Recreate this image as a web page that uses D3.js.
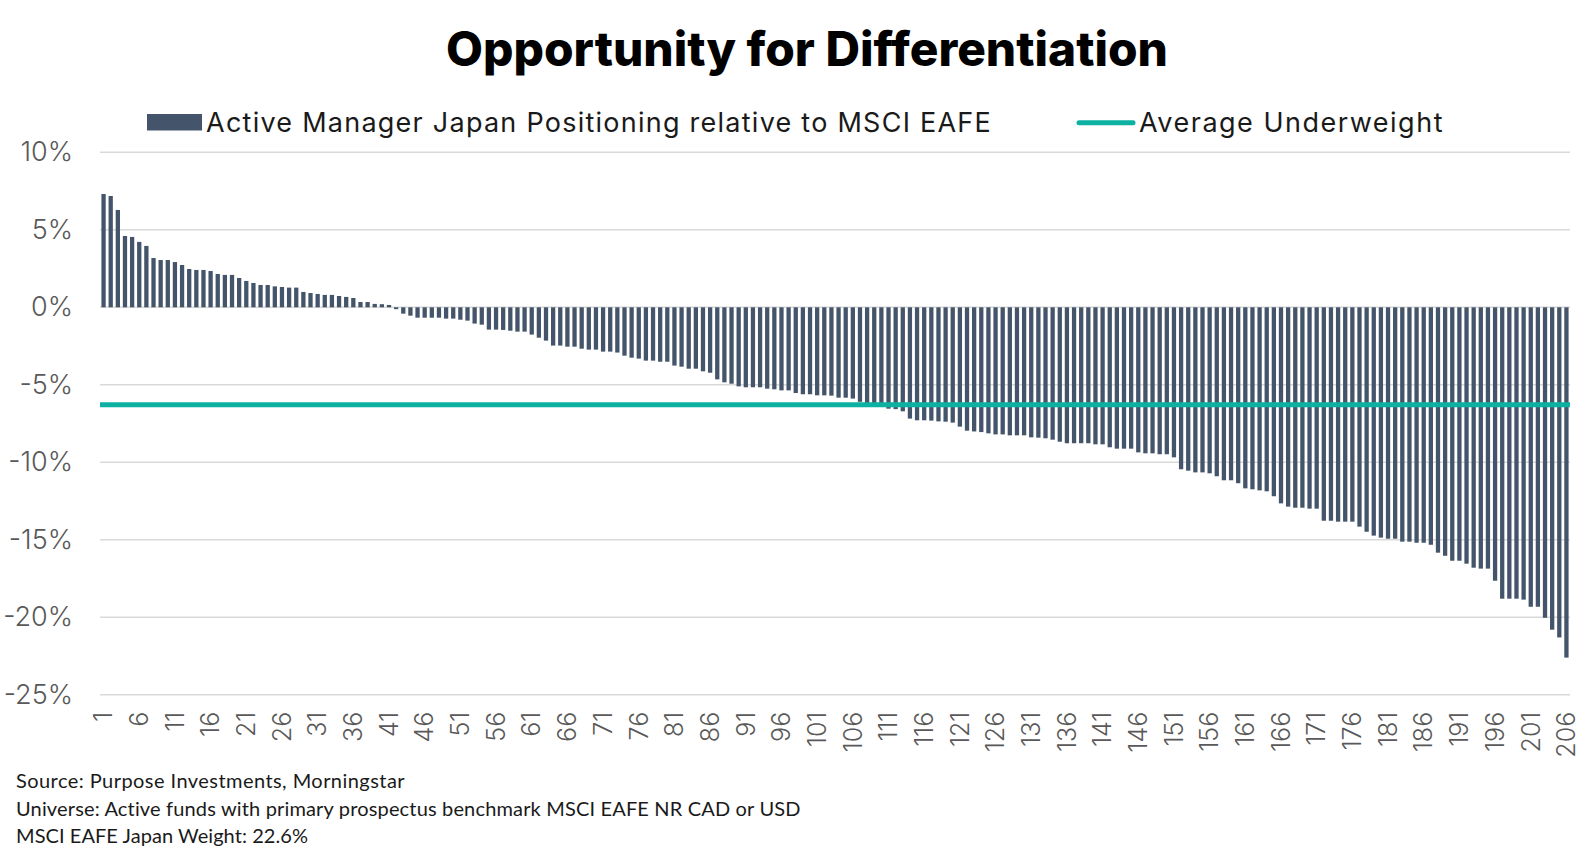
<!DOCTYPE html>
<html lang="en">
<head>
    <meta charset="UTF-8">
    <title>Opportunity for Differentiation</title>
    <script src="https://cdn.jsdelivr.net/npm/d3@7"></script>
    <style>
        body {
            margin: 0;
            background: #fff;
        }
        text {
            font-family: Inter, "DejaVu Sans", sans-serif;
        }
        .source {
            font-family: Lato, "Liberation Sans", sans-serif;
        }
    </style>
</head>
<body>
<script>
    const width  = 1596;
    const height = 854;

    // Funds ranked 1..206 by Japan positioning vs MSCI EAFE (percentage points)
    const funds = d3.range(1, 207);

    const positioning = [
        7.31, 7.18, 6.28, 4.60, 4.54, 4.22, 3.96, 3.18, 3.05, 3.05,
        2.92, 2.73, 2.47, 2.41, 2.41, 2.34, 2.15, 2.09, 2.09, 1.89,
        1.70, 1.57, 1.44, 1.44, 1.35, 1.31, 1.27, 1.27, 0.99, 0.92,
        0.86, 0.80, 0.80, 0.73, 0.67, 0.60, 0.34, 0.34, 0.22, 0.20,
        0.15, -0.12, -0.41, -0.54, -0.67, -0.67, -0.67, -0.67, -0.73, -0.73,
        -0.80, -0.86, -1.05, -1.12, -1.44, -1.44, -1.46, -1.51, -1.57, -1.57,
        -1.76, -1.96, -2.15, -2.47, -2.47, -2.54, -2.54, -2.67, -2.73, -2.73,
        -2.86, -2.86, -2.92, -3.12, -3.25, -3.31, -3.44, -3.44, -3.51, -3.51,
        -3.76, -3.83, -3.96, -3.96, -4.13, -4.22, -4.65, -4.84, -4.93, -5.10,
        -5.16, -5.16, -5.16, -5.25, -5.29, -5.36, -5.36, -5.53, -5.61, -5.61,
        -5.68, -5.68, -5.70, -5.83, -5.83, -5.89, -6.10, -6.20, -6.30, -6.40,
        -6.54, -6.57, -6.71, -7.18, -7.29, -7.29, -7.31, -7.36, -7.38, -7.44,
        -7.70, -7.96, -8.01, -8.05, -8.13, -8.20, -8.20, -8.26, -8.26, -8.26,
        -8.39, -8.41, -8.45, -8.54, -8.67, -8.77, -8.77, -8.77, -8.77, -8.84,
        -8.84, -9.03, -9.12, -9.12, -9.12, -9.36, -9.42, -9.42, -9.48, -9.48,
        -9.68, -10.45, -10.54, -10.65, -10.65, -10.71, -10.90, -11.16, -11.16, -11.35,
        -11.68, -11.74, -11.81, -11.87, -12.19, -12.65, -12.86, -12.93, -12.93, -12.99,
        -12.99, -13.77, -13.77, -13.83, -13.83, -13.83, -14.15, -14.48, -14.73, -14.86,
        -14.93, -14.93, -15.12, -15.12, -15.19, -15.19, -15.32, -15.83, -16.03, -16.35,
        -16.35, -16.54, -16.80, -16.86, -16.86, -17.64, -18.80, -18.80, -18.80, -18.86,
        -19.32, -19.32, -20.03, -20.80, -21.30, -22.60
    ];

    const yTicks = [10, 5, 0, -5, -10, -15, -20, -25];
    const xTicks = funds.filter((d, i) => i % 5 === 0);   // 1, 6, 11, ... 206

    const titleText  = "Opportunity for Differentiation";
    const seriesName = "Active Manager Japan Positioning relative to MSCI EAFE";
    const avgName    = "Average Underweight";
    const sourceLines = [
        "Source: Purpose Investments, Morningstar",
        "Universe: Active funds with primary prospectus benchmark MSCI EAFE NR CAD or USD",
        "MSCI EAFE Japan Weight: 22.6%"
    ];

    const barColor  = "#44546a";
    const avgColor  = "#0db1a2";
    const gridColor = "#d9d9d9";

    const plot = {left: 100, right: 1570, top: 152.3, bottom: 694.8};

    const x = d3.scaleBand()
                .domain(funds)
                .range([plot.left, plot.right])
                .paddingInner(0.4)
                .paddingOuter(0.2);

    const y = d3.scaleLinear()
                .domain([-25, 10])
                .range([plot.bottom, plot.top]);

    const avg = d3.mean(positioning);

    const svg = d3.select("body").append("svg")
                  .attr("width", width)
                  .attr("height", height);

    // stretch text with letter spacing so it covers the same width as the original
    function fitWidth(sel, target) {
        sel.each(function() {
            const w = this.getComputedTextLength();
            const n = this.getNumberOfChars();
            d3.select(this).attr("letter-spacing", (target - w) / n);
        });
    }

    // scale the font size instead (keeps the glyphs' own spacing)
    function fitSize(sel, target) {
        sel.each(function() {
            const size = parseFloat(this.style.fontSize);
            const w = this.getComputedTextLength();
            d3.select(this).style("font-size", (size * target / w) + "px");
        });
    }

    // Title
    svg.append("text")
        .attr("x", 807)
        .attr("y", 66)
        .attr("text-anchor", "middle")
        .style("font-size", "40px")
        .style("font-weight", 800)
        .attr("fill", "#000")
        .text(titleText)
        .call(fitSize, 722);

    // Legend
    const legend = svg.append("g");
    legend.append("rect")
        .attr("x", 147).attr("y", 114)
        .attr("width", 55).attr("height", 16.5)
        .attr("fill", barColor);
    legend.append("text")
        .attr("x", 206).attr("y", 131.5)
        .style("font-size", "27px")
        .attr("fill", "#1a1a1a")
        .text(seriesName)
        .call(fitWidth, 786);
    legend.append("line")
        .attr("x1", 1079).attr("x2", 1133)
        .attr("y1", 122.7).attr("y2", 122.7)
        .attr("stroke", avgColor)
        .attr("stroke-width", 5)
        .attr("stroke-linecap", "round");
    legend.append("text")
        .attr("x", 1139).attr("y", 131.5)
        .style("font-size", "27px")
        .attr("fill", "#1a1a1a")
        .text(avgName)
        .call(fitWidth, 305);

    // Gridlines
    svg.append("g")
        .selectAll("line")
        .data(yTicks)
        .join("line")
          .attr("x1", plot.left).attr("x2", plot.right)
          .attr("y1", d => y(d)).attr("y2", d => y(d))
          .attr("stroke", gridColor)
          .attr("stroke-width", 1.5);

    // Y axis labels
    const yAxis = svg.append("g")
        .attr("transform", `translate(${plot.left},0)`)
        .call(d3.axisLeft(y).tickValues(yTicks).tickFormat(d => d + "%").tickSize(0).tickPadding(27));
    yAxis.select(".domain").remove();
    yAxis.selectAll("text")
        .style("font-size", "27px")
        .style("font-family", "Inter, 'DejaVu Sans', sans-serif")
        .style("font-weight", 300)
        .attr("fill", "#595959");

    // Bars
    svg.append("g")
        .selectAll("rect")
        .data(funds)
        .join("rect")
          .attr("x", d => x(d))
          .attr("width", x.bandwidth())
          .attr("y", (d, i) => y(Math.max(0, positioning[i])))
          .attr("height", (d, i) => Math.abs(y(positioning[i]) - y(0)))
          .attr("fill", barColor);

    // Average underweight line
    svg.append("line")
        .attr("x1", plot.left).attr("x2", plot.right)
        .attr("y1", y(avg)).attr("y2", y(avg))
        .attr("stroke", avgColor)
        .attr("stroke-width", 5);

    // X axis labels (rotated)
    const xAxis = svg.append("g")
        .attr("transform", `translate(0,${plot.bottom})`)
        .call(d3.axisBottom(x).tickValues(xTicks).tickSize(0));
    xAxis.select(".domain").remove();
    xAxis.selectAll("text")
        .attr("transform", "rotate(-90)")
        .attr("x", -17)
        .attr("y", 0)
        .attr("dy", "0.35em")
        .style("text-anchor", "end")
        .style("font-size", "25px")
        .style("font-family", "Inter, 'DejaVu Sans', sans-serif")
        .style("font-weight", 300)
        .attr("fill", "#595959");

    // Source notes
    svg.append("g")
        .selectAll("text")
        .data(sourceLines)
        .join("text")
          .attr("class", "source")
          .attr("x", 16)
          .attr("y", (d, i) => 788 + i * 27.5)
          .style("font-size", "20px")
          .attr("fill", "#1a1a1a")
          .text(d => d)
          .each(function(d, i) {
              d3.select(this).call(fitWidth, [389, 785, 292][i]);
          });
</script>
</body>
</html>
